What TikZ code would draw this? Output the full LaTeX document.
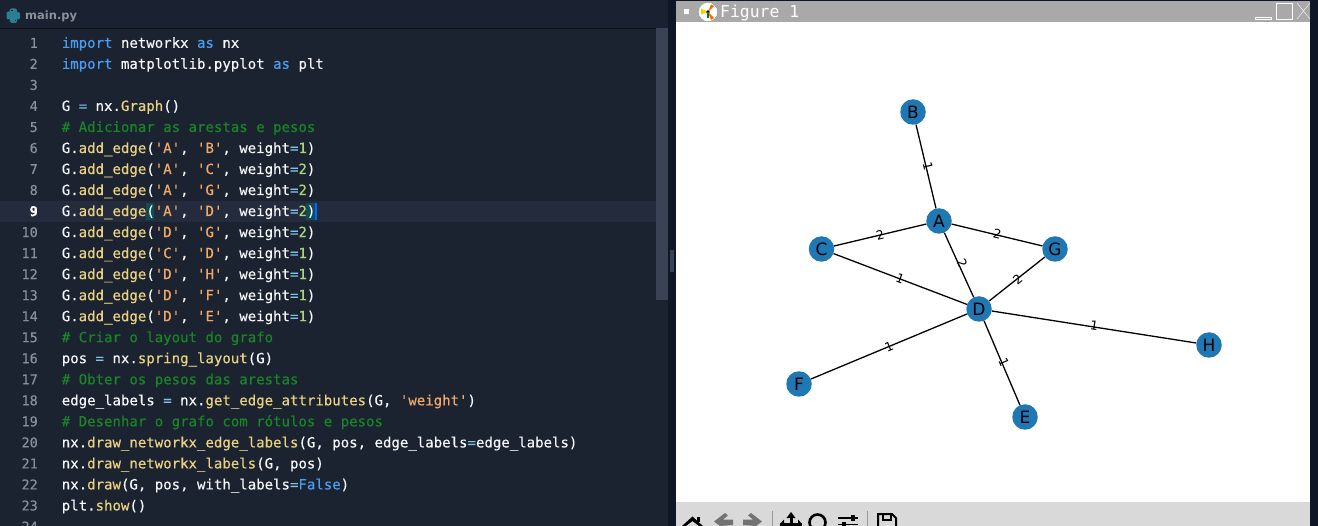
\documentclass[tikz,border=0pt]{standalone}
\usepackage{fontspec}
\newfontfamily\codefont[FakeBold=0.25]{DejaVu Sans Mono}
\newfontfamily\titlefont{DejaVu Sans Mono}
\setmainfont{DejaVu Sans}
\definecolor{editorbg}{HTML}{1B2331}
\definecolor{tabbg}{HTML}{1A2130}
\definecolor{gutterfg}{HTML}{8A919C}
\definecolor{linehl}{HTML}{242B3C}
\definecolor{sidebg}{HTML}{0F1626}
\definecolor{scrollbar}{HTML}{3A4356}
\definecolor{codefg}{HTML}{F6F8FA}
\definecolor{kwcol}{HTML}{4A9DF2}
\definecolor{fncol}{HTML}{EBD283}
\definecolor{stcol}{HTML}{F3A866}
\definecolor{nmcol}{HTML}{A9D67A}
\definecolor{opcol}{HTML}{7FC4E8}
\definecolor{cmcol}{HTML}{1A8527}
\definecolor{barcol}{HTML}{A9A9A9}
\definecolor{toolcol}{HTML}{D9D9D9}
\definecolor{nodecol}{HTML}{1F78B4}
\definecolor{pycol}{HTML}{2A7F92}
\newcommand{\kw}[1]{\textcolor{kwcol}{#1}}
\newcommand{\fn}[1]{\textcolor{fncol}{#1}}
\newcommand{\st}[1]{\textcolor{stcol}{#1}}
\newcommand{\nm}[1]{\textcolor{nmcol}{#1}}
\newcommand{\eq}{\textcolor{opcol}{=}}
\newcommand{\cm}[1]{\textcolor{cmcol}{#1}}
\newcommand{\edgeline}[3]{G.\fn{add\_edge}(\st{'#1'}, \st{'#2'}, weight\eq\nm{#3})}
\tikzset{
  codeline/.style={anchor=base west, inner sep=0pt, text=codefg, font=\codefont\fontsize{14.04}{14}\selectfont},
  gutter/.style={anchor=base east, inner sep=0pt, text=gutterfg, font=\codefont\fontsize{13.5}{14}\selectfont},
  vertex/.style={circle, fill=nodecol, minimum size=25.5pt, inner sep=0pt, text=black, font=\fontsize{17}{17}\selectfont},
  weight/.style={sloped, midway, inner sep=0pt, text=black, font=\fontsize{12.5}{12.5}\selectfont},
  link/.style={line width=1.3pt, black},
  icon/.style={fill=black, draw=none},
  wintitle/.style={anchor=base west, inner sep=0pt, text=white, font=\titlefont\fontsize{16.4}{17}\selectfont}
}
\begin{document}
\begin{tikzpicture}[x=1pt, y=-1pt]
    \useasboundingbox (0,0) rectangle (1318,526);
    \clip (0,0) rectangle (1318,526);

    % editor side
    \fill[editorbg] (0,0) rectangle (668,526);
    \fill[tabbg] (0,0) rectangle (668,28);
    \draw[black!60!editorbg] (0,28.5) -- (668,28.5);
    \fill[linehl] (0,201) rectangle (656,222);
    \fill[scrollbar] (656,28) rectangle (668,300);
    \fill[sidebg] (668,0) rectangle (1318,526);
    \fill[scrollbar] (670,250) rectangle (674,272);

    % tab
    \fill[pycol, rounded corners=2pt] (9.5,8.5) rectangle (17,15);
    \fill[pycol, rounded corners=2pt] (6.5,11.5) rectangle (13,19.5);
    \fill[pycol, rounded corners=2pt] (13,12) rectangle (20,19.5);
    \fill[pycol, rounded corners=2pt] (10,16) rectangle (17,23);
    \fill[editorbg] (11,10) rectangle (12.5,11.5);
    \fill[editorbg] (14.5,20) rectangle (16,21.5);
    \node[anchor=base west, inner sep=0pt, text=gutterfg, font=\fontsize{11.5}{12}\selectfont\bfseries] (tabname) at (25,20) {main.py};

    % gutter
    \foreach \n in {1,...,24} {
        \pgfmathsetmacro{\yy}{47.8+(\n-1)*21.03}
        \node[gutter] (num\n) at (38,\yy) {\n};
    }
    \node[gutter, text=white] (numnine) at (38,216) {\textbf{9}};

    % bracket marks of line 9
    \fill[teal!45!editorbg] (146,203.5) rectangle (154,220);
    \fill[teal!45!editorbg] (306,203.5) rectangle (315,220);
    \fill[blue!60!cyan] (315,203) rectangle (317,220);

    % code
    \node[codeline] (l1) at (61.6,47.8) {\kw{import} networkx \kw{as} nx};
    \node[codeline] (l2) at (61.6,68.8) {\kw{import} matplotlib.pyplot \kw{as} plt};
    \node[codeline] (l4) at (61.6,110.9) {G \eq{} nx.\fn{Graph}()};
    \node[codeline] (l5) at (61.6,131.9) {\cm{\# Adicionar as arestas e pesos}};
    \node[codeline] (l6) at (61.6,153) {\edgeline{A}{B}{1}};
    \node[codeline] (l7) at (61.6,174) {\edgeline{A}{C}{2}};
    \node[codeline] (l8) at (61.6,195) {\edgeline{A}{G}{2}};
    \node[codeline] (l9) at (61.6,216) {\edgeline{A}{D}{2}};
    \node[codeline] (l10) at (61.6,237.1) {\edgeline{D}{G}{2}};
    \node[codeline] (l11) at (61.6,258.1) {\edgeline{C}{D}{1}};
    \node[codeline] (l12) at (61.6,279.1) {\edgeline{D}{H}{1}};
    \node[codeline] (l13) at (61.6,300.2) {\edgeline{D}{F}{1}};
    \node[codeline] (l14) at (61.6,321.2) {\edgeline{D}{E}{1}};
    \node[codeline] (l15) at (61.6,342.2) {\cm{\# Criar o layout do grafo}};
    \node[codeline] (l16) at (61.6,363.2) {pos \eq{} nx.\fn{spring\_layout}(G)};
    \node[codeline] (l17) at (61.6,384.3) {\cm{\# Obter os pesos das arestas}};
    \node[codeline] (l18) at (61.6,405.3) {edge\_labels \eq{} nx.\fn{get\_edge\_attributes}(G, \st{'weight'})};
    \node[codeline] (l19) at (61.6,426.3) {\cm{\# Desenhar o grafo com rótulos e pesos}};
    \node[codeline] (l20) at (61.6,447.4) {nx.\fn{draw\_networkx\_edge\_labels}(G, pos, edge\_labels\eq{}edge\_labels)};
    \node[codeline] (l21) at (61.6,468.4) {nx.\fn{draw\_networkx\_labels}(G, pos)};
    \node[codeline] (l22) at (61.6,489.4) {nx.\fn{draw}(G, pos, with\_labels\eq\kw{False})};
    \node[codeline] (l23) at (61.6,510.5) {plt.\fn{show}()};

    % figure window
    \fill[white] (676,22) rectangle (1310,502);
    \fill[barcol] (676,1) rectangle (1310,22);
    \fill[toolcol] (676,502) rectangle (1310,526);
    \fill[white] (684,9) rectangle (689,14);
    \fill[white] (708,12) circle (9.5);
    \draw[black!70, densely dotted] (708,12) circle (9.5);
    \fill[yellow!70!orange] (701,8.5) -- (708,12) -- (701,14.5) -- cycle;
    \fill[orange!80!red] (708,12) -- (711,4.5) -- (714,6) -- cycle;
    \fill[orange!80!red] (708,12) -- (714,18) -- (711,20) -- cycle;
    \fill[black] (708,12) circle (1.8);
    \fill[green!50!black] (706.5,12) rectangle (709,18);
    \node[wintitle] (title) at (720,17.5) {Figure 1};
    \draw[white, line width=1pt] (1255.5,17.5) rectangle (1271.5,19.5);
    \draw[white, line width=1pt] (1276.5,3.5) rectangle (1292.5,19.5);
    \draw[white] (1297,3) -- (1310,19);
    \draw[white] (1297,19) -- (1310,3);

    % toolbar
    \fill[icon] (682,526) -- (692.5,516.5) -- (703,526) -- (699,526) -- (692.5,521) -- (686,526) -- cycle;
    \fill[icon] (697,517) rectangle (700,522);
    \fill[black!55] (714,521.5) -- (725,513) -- (728,515.5) -- (723,519.5) -- (733,519.5) -- (733,525) -- (720,526) -- cycle;
    \fill[black!55] (762,521.5) -- (751,513) -- (748,515.5) -- (753,519.5) -- (743,519.5) -- (743,525) -- (756,526) -- cycle;
    \draw[black!40] (772.5,511) -- (772.5,526);
    \fill[icon] (789.5,517) rectangle (792.5,526);
    \fill[icon] (780,522.5) rectangle (802,526);
    \fill[icon] (791,512) -- (795.5,518) -- (786.5,518) -- cycle;
    \fill[icon] (784,519.5) -- (780,524) -- (784,526) -- cycle;
    \fill[icon] (798,519.5) -- (802,524) -- (798,526) -- cycle;
    \draw[black, line width=2.6pt] (817.5,522.5) circle (8);
    \draw[black, line width=1.2pt] (838,518) -- (858,518);
    \draw[black, line width=1.2pt] (838,524.5) -- (858,524.5);
    \fill[icon] (851,514.5) rectangle (855,521);
    \fill[icon] (842,521.5) rectangle (846,526);
    \draw[black!40] (867.5,511) -- (867.5,526);
    \draw[black, line width=2pt] (878,527) -- (878,514) -- (892,514) -- (896,518) -- (896,527);
    \draw[black, line width=1.4pt] (883,514) -- (883,520) -- (891,520) -- (891,514);

    % graph
    \node[vertex] (B) at (913,112) {B};
    \node[vertex] (A) at (939,221) {A};
    \node[vertex] (C) at (821.5,249) {C};
    \node[vertex] (G) at (1055,249) {G};
    \node[vertex] (D) at (979,309) {D};
    \node[vertex] (H) at (1209,345) {H};
    \node[vertex] (F) at (799,384) {F};
    \node[vertex] (E) at (1025,417) {E};

    \draw[link] (A) -- node[weight, yshift=2pt] {1} (B);
    \draw[link] (A) -- node[weight] {2} (C);
    \draw[link] (A) -- node[weight, yshift=1.5pt] {2} (G);
    \draw[link] (A) -- node[weight, yshift=3.5pt] {2} (D);
    \draw[link] (D) -- node[weight, yshift=-1pt] {2} (G);
    \draw[link] (C) -- node[weight] {1} (D);
    \draw[link] (D) -- node[weight, yshift=1pt] {1} (H);
    \draw[link] (F) -- node[weight] {1} (D);
    \draw[link] (D) -- node[weight, yshift=2pt] {1} (E);
\end{tikzpicture}
\end{document}
